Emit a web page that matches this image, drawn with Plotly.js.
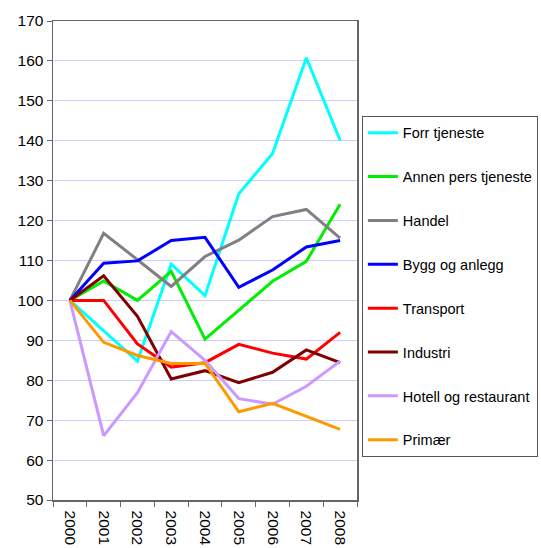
<!DOCTYPE html>
<html>
<head>
<meta charset="utf-8">
<script src="https://cdn.plot.ly/plotly-3.0.1.min.js"></script>
<style>html,body{margin:0;padding:0;background:#fff;}#chart{width:541px;height:548px;}</style>
</head>
<body>
<div id="chart"></div>
<script>
const years = ["2000","2001","2002","2003","2004","2005","2006","2007","2008"];
const seriesNames = ["Forr tjeneste","Annen pers tjeneste","Handel","Bygg og anlegg","Transport","Industri","Hotell og restaurant","Primær"];
const forrTjeneste = [100, 92.3, 84.8, 109.1, 101.2, 126.7, 136.8, 160.8, 140.1];
const annenPers = [100, 104.9, 100, 107.3, 90.3, 97.5, 104.8, 109.8, 124.1];
const handel = [100, 116.8, 110.2, 103.5, 111, 115.1, 121, 122.8, 115.6];
const bygg = [100, 109.3, 109.9, 115, 115.8, 103.3, 107.6, 113.4, 115];
const transport = [100, 100, 89.1, 83.3, 84.4, 89, 86.8, 85.3, 92];
const industri = [100, 106.2, 96, 80.3, 82.4, 79.4, 82, 87.6, 84.4];
const hotell = [100, 66.1, 76.9, 92.2, 85, 75.4, 74, 78.5, 84.8];
const primaer = [100, 89.5, 86.2, 84.2, 84.2, 72.1, 74.2, 71, 67.7];
const colors = ["#00FFFF","#00EE00","#808080","#0000FF","#FF0000","#800000","#CC99FF","#FF9900"];
const allValues = [forrTjeneste, annenPers, handel, bygg, transport, industri, hotell, primaer];

const traces = seriesNames.map((n, i) => ({
  type: "scatter", mode: "lines", name: n, x: years, y: allValues[i],
  line: {color: colors[i], width: 3}, legendgroup: "g" + i
}));

const layout = {
  width: 541, height: 548,
  paper_bgcolor: "#fff", plot_bgcolor: "#fff",
  font: {family: "Liberation Sans, Arial, sans-serif", size: 15, color: "#000"},
  margin: {l: 53, r: 184, t: 21, b: 48, autoexpand: false},
  showlegend: true,
  xaxis: {
    type: "category", range: [-0.5, 8.5], tickangle: 90, tickson: "boundaries",
    ticks: "outside", ticklen: 5, tickcolor: "#666", showline: true, linecolor: "#666", linewidth: 1.5,
    mirror: true, showgrid: false, zeroline: false, tickfont: {size: 15.5}, ticklabelstandoff: 6
  },
  yaxis: {
    range: [50, 170], dtick: 10, tick0: 50, ticks: "outside", ticklen: 5, tickcolor: "#666",
    showline: true, linecolor: "#666", linewidth: 1.5, mirror: true,
    showgrid: true, gridcolor: "#CCCCFF", gridwidth: 1, zeroline: false, tickfont: {size: 15.5}
  },
  legend: {
    x: 1.016, xanchor: "left", y: 0.802, yanchor: "top",
    bordercolor: "#555", borderwidth: 1, bgcolor: "#fff",
    font: {size: 14.5}, tracegroupgap: 22, traceorder: "grouped", itemwidth: 30
  }
};
Plotly.newPlot("chart", traces, layout, {displayModeBar: false, staticPlot: true});
</script>
</body>
</html>
